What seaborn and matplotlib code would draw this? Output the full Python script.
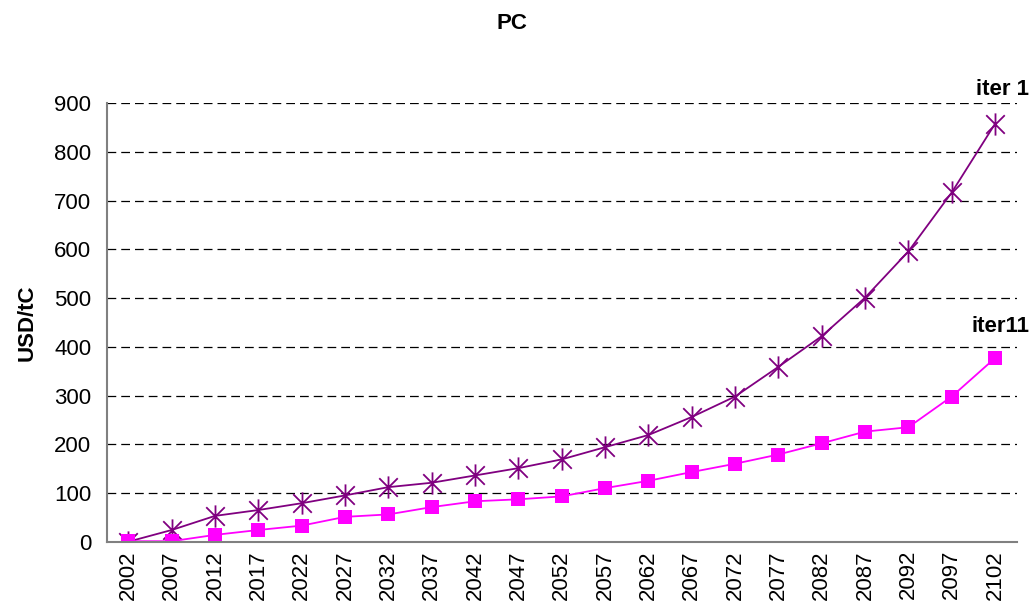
import numpy as np
import pandas as pd
import matplotlib
matplotlib.use("Agg")
import matplotlib.pyplot as plt
from matplotlib.path import Path
from matplotlib.ticker import FixedLocator, NullFormatter
import seaborn as sns

years = [2002, 2007, 2012, 2017, 2022, 2027, 2032, 2037, 2042, 2047, 2052,
         2057, 2062, 2067, 2072, 2077, 2082, 2087, 2092, 2097, 2102]
iter1 = [0, 24, 53, 65, 79, 95, 112, 121, 136, 151, 169,
         194, 219, 256, 298, 359, 422, 501, 596, 717, 858]
iter11 = [1, 1, 14, 24, 33, 51, 56, 71, 83, 87, 93,
          110, 125, 143, 160, 179, 202, 226, 235, 298, 377]

sns.set_theme(style="white")
plt.rcParams["font.family"] = ["Liberation Sans", "DejaVu Sans"]
plt.rcParams["text.color"] = "black"
plt.rcParams["axes.labelcolor"] = "black"
plt.rcParams["xtick.labelcolor"] = "black"
plt.rcParams["ytick.labelcolor"] = "black"

df = pd.DataFrame({"year": years, "iter 1": iter1, "iter11": iter11})

# excel style star: an X with a vertical bar through it
star = Path([(-1, -1), (1, 1), (-1, 1), (1, -1), (0, -1.2), (0, 1.2)],
            [Path.MOVETO, Path.LINETO, Path.MOVETO, Path.LINETO, Path.MOVETO, Path.LINETO])

PURPLE = "#800080"
MAGENTA = "#FF00FF"

fig = plt.figure(figsize=(10.34, 6.15), dpi=100)
ax = fig.add_axes([0.1032, 0.1192, 0.8801, 0.7128])

sns.lineplot(data=df, x="year", y="iter 1", ax=ax, color=PURPLE, lw=1.3,
             marker=star, markersize=16, markeredgecolor=PURPLE,
             markerfacecolor="none", markeredgewidth=1.3)
sns.lineplot(data=df, x="year", y="iter11", ax=ax, color=MAGENTA, lw=1.3,
             marker="s", markersize=10, markeredgecolor=MAGENTA,
             markerfacecolor=MAGENTA, markeredgewidth=0)

ax.set_xlim(years[0] - 2.5, years[-1] + 2.5)
ax.set_ylim(0, 900)
ax.set_yticks(np.arange(0, 901, 100))
ax.set_xticks(years)
ax.set_xticklabels([str(y) for y in years], rotation=90, fontsize=16)
ax.xaxis.set_minor_locator(FixedLocator([y - 2.5 for y in years] + [years[-1] + 2.5]))
ax.xaxis.set_minor_formatter(NullFormatter())
ax.tick_params(axis="x", which="major", length=0, pad=6)
ax.tick_params(axis="x", which="minor", length=7, width=1, color="#808080", direction="out")
ax.tick_params(axis="y", length=8, width=1, color="#808080", direction="out", labelsize=16, pad=3)

ax.yaxis.grid(True, color="black", linestyle=(0, (7, 4)), linewidth=0.9)
ax.xaxis.grid(False)
ax.set_axisbelow(True)

for side in ["top", "right"]:
    ax.spines[side].set_visible(False)
for side in ["left", "bottom"]:
    ax.spines[side].set_color("#808080")
    ax.spines[side].set_linewidth(1.5)

ax.set_xlabel("")
ax.set_ylabel("USD/tC", fontsize=16, fontweight="bold", labelpad=12)
fig.text(0.495, 0.961, "PC", ha="center", va="center", fontsize=16, fontweight="bold")

ax.annotate("iter 1", xy=(years[-1], iter1[-1]), xytext=(5, 25), textcoords="offset points",
            ha="center", va="center", fontsize=16, fontweight="bold")
ax.annotate("iter11", xy=(years[-1], iter11[-1]), xytext=(4, 23), textcoords="offset points",
            ha="center", va="center", fontsize=16, fontweight="bold")

fig.savefig("out.png", dpi=100)
